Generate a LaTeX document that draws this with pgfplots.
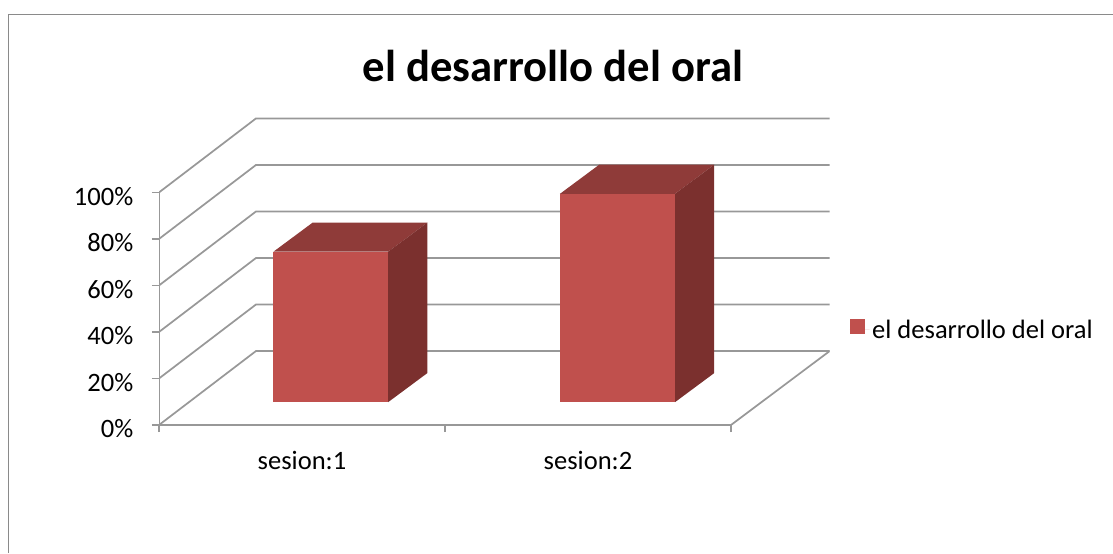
\documentclass[border=0pt]{standalone}
\usepackage{fontspec}
\setmainfont{Carlito}
\usepackage{pgfplots}
\pgfplotsset{compat=1.18}
\definecolor{gridg}{HTML}{989898}
\definecolor{framec}{HTML}{8A8A8A}
\definecolor{barfront}{HTML}{C0504D}
\definecolor{bartop}{HTML}{8F3B39}
\definecolor{barside}{HTML}{7B302E}
\newcommand{\lblfont}{\fontsize{19.9}{20}\selectfont}
\begin{document}
\begin{tikzpicture}
	% page = 1113x553 px at 0.75pt/px
	\path[use as bounding box] (0,0) rectangle (834.75pt,414.75pt);
	\draw[framec,line width=1.4pt] (6.4pt,0) -- (6.4pt,403.9pt) -- (834.75pt,403.9pt);
	\node[font=\fontsize{33.5}{34}\selectfont\bfseries,black] at (414.75pt,365pt) {el desarrollo del oral};
	\begin{axis}[
		at={(119.25pt,96pt)},anchor=south west,scale only axis,
		width=503pt,height=230.25pt,
		xmin=0,xmax=2.345,ymin=0,ymax=132,
		axis lines*=left,axis line style={draw=none},
		xtick={0,1,2},xticklabels={sesion:1,sesion:2},x tick label as interval,
		ytick={0,20,40,60,80,100},
		yticklabel={\pgfmathprintnumber{\tick}\%},
		/pgf/number format/assume math mode=true,
		tick align=outside,
		major tick length=5.25pt,
		tick style={gridg,line width=1.3pt},
		tick label style={font=\lblfont,black},
		y tick label style={xshift=-10.5pt,yshift=-3pt},
		x tick label style={yshift=-11pt},
		legend style={at={(1.03,0.31)},anchor=west,draw=none,fill=none,font=\lblfont,inner sep=0pt,outer sep=0pt,/tikz/column 2/.style={column sep=0pt}},
		legend cell align=left,
		legend image code/.code={\fill[barfront] (0pt,-2.8pt) rectangle (11.2pt,8.4pt);\path (0pt,0pt) -- (14.8pt,0pt);},
		every axis plot/.append style={line width=1.3pt},
	]
	% back wall grid lines, sheared from the front plane
	\addplot[gridg,forget plot] coordinates {(0,0)(0.339,31.8)(2.345,31.8)};
	\addplot[gridg,forget plot] coordinates {(0,20)(0.339,51.8)(2.345,51.8)};
	\addplot[gridg,forget plot] coordinates {(0,40)(0.339,71.8)(2.345,71.8)};
	\addplot[gridg,forget plot] coordinates {(0,60)(0.339,91.8)(2.345,91.8)};
	\addplot[gridg,forget plot] coordinates {(0,80)(0.339,111.8)(2.345,111.8)};
	\addplot[gridg,forget plot] coordinates {(0,100)(0.339,131.8)(2.345,131.8)};
	% floor and axis lines
	\addplot[gridg,forget plot] coordinates {(0,100)(0,0)(2,0)(2.345,31.8)};
	% bar 1
	\addplot[draw=none,fill=bartop,forget plot] coordinates {(0.400,74.5)(0.801,74.5)(0.938,87)(0.537,87)} -- cycle;
	\addplot[draw=none,fill=barside,forget plot] coordinates {(0.801,9.8)(0.938,22.3)(0.938,87)(0.801,74.5)} -- cycle;
	\addplot[draw=none,fill=barfront] coordinates {(0.400,9.8)(0.801,9.8)(0.801,74.5)(0.400,74.5)} -- cycle;
	\addlegendentry{el desarrollo del oral}
	% bar 2
	\addplot[draw=none,fill=bartop,forget plot] coordinates {(1.402,99.4)(1.804,99.4)(1.941,111.9)(1.539,111.9)} -- cycle;
	\addplot[draw=none,fill=barside,forget plot] coordinates {(1.804,9.8)(1.941,22.3)(1.941,111.9)(1.804,99.4)} -- cycle;
	\addplot[draw=none,fill=barfront,forget plot] coordinates {(1.402,9.8)(1.804,9.8)(1.804,99.4)(1.402,99.4)} -- cycle;
	\end{axis}
\end{tikzpicture}
\end{document}
